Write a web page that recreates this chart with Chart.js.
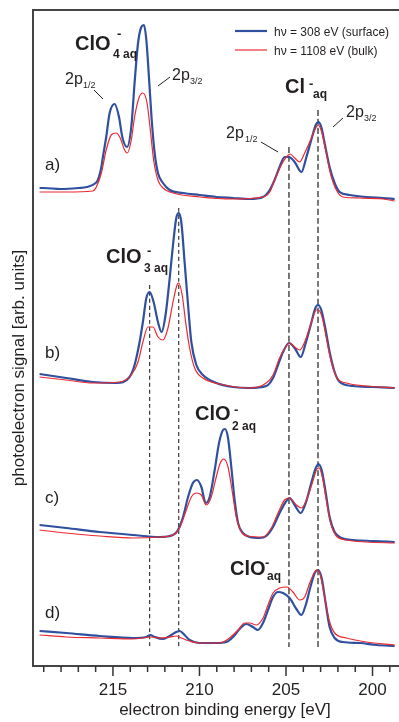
<!DOCTYPE html>
<html>
<head>
<meta charset="utf-8">
<script src="https://cdn.jsdelivr.net/npm/chart.js@4.4.1/dist/chart.umd.min.js"></script>
<style>
html, body { margin: 0; padding: 0; background: #fff; }
#spectra { display: block; }
</style>
</head>
<body>
<canvas id="spectra" width="399" height="722"></canvas>
<script>
const FONT = '"Liberation Sans", Arial, Helvetica, sans-serif';

// binding energy [eV], signal [arb. units] (traces are stacked, offsets included)
const surfA = [[219.24,478],[219.01,478],[218.01,477],[217.0,478],[216.5,479],[216.0,483],[215.87,486],[215.67,499],[215.58,509],[215.39,529],[215.19,553],[214.9,562],[214.65,549],[214.46,529],[214.19,519],[213.94,539],[213.75,583],[213.55,623],[213.36,639],[213.21,641],[213.07,626],[212.92,589],[212.76,546],[212.59,513],[212.4,493],[212.11,483],[211.72,476],[210.95,473],[209.99,471],[209.03,469],[208.06,468],[207.1,467],[206.33,469],[205.94,476],[205.66,486],[205.37,499],[205.08,509],[204.83,509],[204.5,504],[204.11,494],[203.82,509],[203.54,526],[203.28,541],[203.13,544],[202.96,539],[202.77,523],[202.48,499],[202.19,483],[201.9,474],[201.32,471],[200.36,469],[199.39,468],[198.72,467]];
const bulkA = [[219.24,474],[217.7,474],[216.16,475],[215.96,479],[215.67,493],[215.39,516],[215.1,531],[214.81,533],[214.58,528],[214.33,516],[214.17,513],[213.94,526],[213.75,549],[213.5,568],[213.27,573],[213.03,563],[212.84,536],[212.65,506],[212.4,486],[212.11,478],[211.53,473],[209.99,469],[208.06,467],[206.33,469],[205.94,474],[205.66,486],[205.27,501],[204.98,509],[204.75,512],[204.5,508],[204.21,504],[203.92,513],[203.63,524],[203.34,536],[203.13,541],[202.94,534],[202.71,516],[202.44,493],[202.09,476],[201.71,469],[200.74,468],[199.39,467],[198.72,465]];

const surfB = [[219.24,292],[217.7,288],[216.16,284],[214.81,283],[214.04,289],[213.75,301],[213.46,324],[213.27,344],[213.07,368],[212.88,374],[212.65,364],[212.4,344],[212.19,334],[211.96,351],[211.72,388],[211.53,421],[211.34,448],[211.2,453],[211.05,444],[210.86,404],[210.66,361],[210.47,324],[210.18,301],[209.8,291],[209.03,283],[208.06,279],[207.1,278],[206.14,280],[205.75,288],[205.46,301],[205.17,314],[204.83,323],[204.5,318],[204.15,309],[203.86,323],[203.57,341],[203.3,358],[203.15,361],[202.96,356],[202.73,338],[202.48,314],[202.19,294],[201.9,284],[201.13,280],[199.97,279],[198.72,278]];
const bulkB = [[219.24,289],[217.7,286],[216.16,283],[214.61,284],[213.94,291],[213.55,304],[213.27,324],[212.98,339],[212.69,339],[212.4,329],[212.11,326],[211.82,338],[211.53,364],[211.3,381],[211.2,383],[211.0,371],[210.8,344],[210.57,318],[210.28,298],[209.8,288],[208.83,282],[207.1,278],[206.14,283],[205.75,291],[205.37,308],[205.02,319],[204.79,323],[204.5,319],[204.21,316],[203.92,324],[203.54,343],[203.25,356],[203.13,356],[202.9,348],[202.67,328],[202.38,304],[202.05,288],[201.51,283],[200.36,280],[198.72,278]];

const surfC = [[219.24,141],[217.7,138],[215.77,134],[213.84,131],[212.3,129],[211.53,131],[211.24,136],[210.95,149],[210.66,169],[210.38,183],[210.14,186],[209.89,179],[209.64,163],[209.41,169],[209.12,196],[208.87,223],[208.64,236],[208.53,237],[208.35,228],[208.16,199],[207.97,166],[207.77,143],[207.49,133],[207.1,129],[206.52,128],[206.14,130],[205.75,139],[205.37,153],[205.02,164],[204.79,168],[204.5,161],[204.15,153],[203.86,163],[203.54,183],[203.28,198],[203.13,202],[202.94,196],[202.73,176],[202.48,149],[202.19,134],[201.8,128],[201.13,126],[199.97,125],[198.72,124]];
const bulkC = [[219.24,136],[217.7,133],[215.77,130],[213.84,128],[212.3,129],[211.53,131],[211.15,138],[210.76,156],[210.47,169],[210.18,173],[209.89,171],[209.61,161],[209.32,169],[209.03,189],[208.8,203],[208.6,207],[208.35,199],[208.12,176],[207.87,149],[207.58,134],[207.2,130],[206.33,129],[205.85,138],[205.46,153],[205.08,166],[204.79,168],[204.4,161],[204.11,158],[203.82,166],[203.48,183],[203.21,197],[203.09,198],[202.9,189],[202.67,166],[202.42,143],[202.09,130],[201.51,126],[200.36,124],[198.72,123]];

const surfD = [[219.24,35],[217.7,33],[215.77,30],[213.84,28],[213.07,29],[212.84,31],[212.59,29],[212.11,27],[211.72,30],[211.34,34],[211.15,35],[210.86,31],[210.57,26],[209.99,23],[209.03,23],[208.45,24],[208.06,29],[207.68,37],[207.29,42],[206.91,39],[206.62,36],[206.33,43],[206.04,56],[205.75,69],[205.46,74],[205.17,73],[204.79,68],[204.4,57],[204.11,51],[203.86,61],[203.59,79],[203.34,93],[203.15,96],[202.94,88],[202.71,63],[202.48,39],[202.19,28],[201.71,24],[200.74,23],[199.78,21],[198.72,20]];
const bulkD = [[219.24,31],[217.7,29],[215.77,28],[213.84,27],[212.78,29],[212.3,28],[211.72,29],[211.34,30],[211.05,28],[210.57,25],[209.99,23],[208.83,23],[208.26,28],[207.77,36],[207.39,43],[207.1,43],[206.71,41],[206.33,48],[206.04,61],[205.75,73],[205.37,78],[204.94,79],[204.6,74],[204.21,66],[203.92,69],[203.63,83],[203.34,94],[203.21,96],[203.02,91],[202.77,69],[202.51,46],[202.19,33],[201.51,28],[200.36,24],[198.72,21]];

// dashed guide lines at the Cl 2p positions
const dashEnergies = [212.88, 211.2, 204.83, 203.15];
const dashTops = [381, 458, 519, 556];
const dashBottom = 19;

const majorTicks = [215, 210, 205, 200];

const BLUE = '#2f4f9f';
const RED = '#ec2a30';

function toXY(arr) { return arr.map(p => ({ x: p[0], y: p[1] })); }

const datasets = [];
[[surfA, bulkA], [surfB, bulkB], [surfC, bulkC], [surfD, bulkD]].forEach(pair => {
    datasets.push({ data: toXY(pair[0]), borderColor: BLUE, borderWidth: 2.2, order: 1 });
    datasets.push({ data: toXY(pair[1]), borderColor: RED, borderWidth: 1.2, order: 0 });
});
dashEnergies.forEach((e, i) => {
    const cl = i >= 2;
    datasets.push({
        data: [{ x: e, y: dashTops[i] }, { x: e, y: dashBottom }],
        borderColor: cl ? '#6a6a6a' : '#3a3a3a',
        borderWidth: cl ? 1.8 : 1.2,
        borderDash: cl ? [6, 3] : [4, 3],
        order: 2
    });
});

function put(ctx, s, x, y, size, bold) {
    ctx.font = (bold ? 'bold ' : '') + size + 'px ' + FONT;
    ctx.fillText(s, x, y);
}
function seg(ctx, x1, y1, x2, y2) {
    ctx.beginPath(); ctx.moveTo(x1, y1); ctx.lineTo(x2, y2); ctx.stroke();
}

const decor = {
    id: 'decor',
    afterDraw(chart) {
        const ctx = chart.ctx, area = chart.chartArea, xs = chart.scales.x;
        ctx.save();
        ctx.strokeStyle = '#444';
        ctx.lineWidth = 2;
        seg(ctx, area.left - 1, area.top, chart.width, area.top);

        // tick marks
        ctx.lineWidth = 1.5;
        ctx.strokeStyle = '#333';
        xs.ticks.forEach(t => {
            const px = xs.getPixelForValue(t.value);
            const major = majorTicks.some(m => Math.abs(m - t.value) < 1e-6);
            seg(ctx, px, area.bottom, px, area.bottom + (major ? 10 : 6));
        });

        ctx.fillStyle = '#231f20';
        ctx.textAlign = 'left';
        ctx.textBaseline = 'alphabetic';

        // species labels
        put(ctx, 'ClO', 75, 50, 20, true); put(ctx, '4 aq', 113, 58, 12, true); put(ctx, '-', 117, 38, 13, true);
        put(ctx, 'Cl', 285, 93, 20, true); put(ctx, '-', 309, 88, 13, true); put(ctx, 'aq', 313, 98, 12, true);
        put(ctx, 'ClO', 106, 263, 20, true); put(ctx, '3 aq', 144, 272, 12, true); put(ctx, '-', 147, 255, 13, true);
        put(ctx, 'ClO', 195, 420, 20, true); put(ctx, '2 aq', 232, 430, 12, true); put(ctx, '-', 234, 414, 13, true);
        put(ctx, 'ClO', 230, 575, 20, true); put(ctx, '-', 265, 567, 13, true); put(ctx, 'aq', 267, 580, 12, true);

        // spin-orbit labels
        put(ctx, '2p', 65, 84, 16); put(ctx, '1/2', 83, 88, 9);
        put(ctx, '2p', 172, 80, 16); put(ctx, '3/2', 190, 84, 9);
        put(ctx, '2p', 226, 138, 16); put(ctx, '1/2', 245, 142, 9);
        put(ctx, '2p', 346, 117, 16); put(ctx, '3/2', 364, 121, 9);
        ctx.strokeStyle = '#231f20';
        ctx.lineWidth = 1;
        seg(ctx, 94, 90, 103, 99);
        seg(ctx, 170, 77, 158, 86);
        seg(ctx, 261, 142, 278, 152);
        seg(ctx, 343, 118, 333, 127);

        // panel letters
        put(ctx, 'a)', 45, 170, 17); put(ctx, 'b)', 45, 358, 17);
        put(ctx, 'c)', 45, 503, 17); put(ctx, 'd)', 45, 618, 17);

        // legend
        ctx.strokeStyle = BLUE; ctx.lineWidth = 2.2; seg(ctx, 235, 31, 267, 31);
        ctx.strokeStyle = RED; ctx.lineWidth = 1.2; seg(ctx, 235, 50, 267, 50);
        put(ctx, 'h\u03bd = 308 eV (surface)', 274, 36, 12);
        put(ctx, 'h\u03bd = 1108 eV (bulk)', 274, 55, 12);

        // axis titles
        ctx.textAlign = 'center';
        put(ctx, 'electron binding energy [eV]', 225, 715, 17);
        ctx.translate(19, 368);
        ctx.rotate(-Math.PI / 2);
        ctx.textBaseline = 'middle';
        put(ctx, 'photoelectron signal [arb. units]', 0, 0, 17);
        ctx.restore();
    }
};

new Chart(document.getElementById('spectra'), {
    type: 'line',
    data: { datasets: datasets },
    options: {
        responsive: false,
        animation: false,
        layout: { autoPadding: false, padding: { top: 10, left: 0, right: 0, bottom: 0 } },
        elements: {
            point: { radius: 0 },
            line: { fill: false, cubicInterpolationMode: 'monotone' }
        },
        plugins: { legend: { display: false }, tooltip: { enabled: false } },
        scales: {
            x: {
                type: 'linear',
                reverse: true,
                min: 198.47,
                max: 219.62,
                grid: { display: false, drawTicks: false },
                border: { color: '#444', width: 2 },
                ticks: {
                    stepSize: 1,
                    includeBounds: false,
                    autoSkip: false,
                    maxRotation: 0,
                    padding: 14,
                    color: '#231f20',
                    font: { family: FONT, size: 17 },
                    callback: v => (majorTicks.includes(v) ? String(v) : '')
                },
                afterFit: s => { s.height = 56; s.paddingLeft = 0; s.paddingRight = 0; }
            },
            y: {
                min: 0,
                max: 656,
                grid: { display: false },
                border: { color: '#444', width: 2 },
                ticks: { display: false },
                afterFit: s => { s.width = 33; }
            }
        }
    },
    plugins: [decor]
});
</script>
</body>
</html>
